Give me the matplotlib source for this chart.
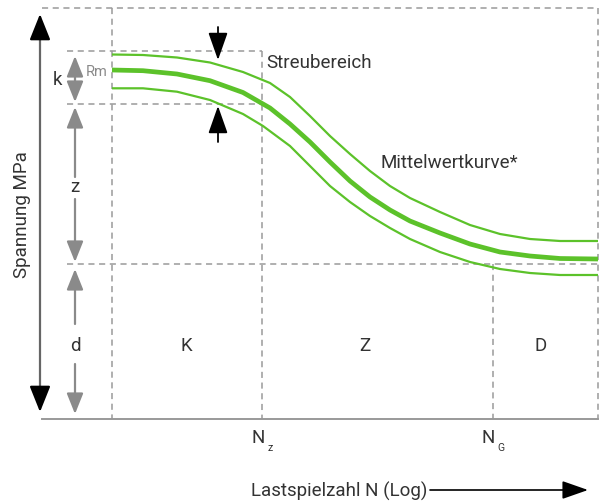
import matplotlib.pyplot as plt

plt.rcParams['font.family'] = ['Roboto', 'DejaVu Sans']

# --- curve data (pixel space of the original sketch, y grows downward) ---
mid_x = [112, 143, 177, 210, 243, 270, 290, 310, 330, 350, 370, 390, 410,
         440, 470, 500, 530, 560, 598]
mid_y = [71, 71.7, 75, 81.7, 93.5, 109, 125, 143, 163, 182, 198, 211, 222,
         234, 245, 253, 257, 259.5, 260]
upper_x = [112, 143, 177, 210, 243, 270, 290, 310, 330, 350, 370, 390, 410,
           440, 470, 500, 530, 560, 598]
upper_y = [55.5, 56, 58.5, 63.5, 73, 84, 98, 117, 137, 155, 172, 187, 199,
           213, 226, 235, 240, 242, 242]
lower_x = [112, 143, 177, 210, 243, 263, 290, 310, 330, 350, 370, 390, 410,
           440, 470, 500, 530, 560, 598]
lower_y = [89.3, 89.3, 92.7, 101, 115, 127, 147, 167, 187, 203, 217, 229, 240,
           253, 263, 270, 274, 276, 276]

# guide positions
x_left, x_start, x_nz, x_ng, x_right = 40, 112, 262, 493, 598
y_top, y_k_top, y_k_bot, y_d, y_base = 9, 52, 105, 265, 420

region_labels = ["K", "Z", "D"]
region_x = [186, 365, 541]

green = '#5cc22a'
dash_col = '#9a9a9a'
gray = '#8a8a8a'
txt = '#333333'

fig = plt.figure(figsize=(6.05, 5.02), dpi=100)
ax = fig.add_axes([0, 0, 1, 1])
ax.set_xlim(0, 605)
ax.set_ylim(502, 0)
ax.axis('off')

dash = dict(color=dash_col, lw=1.1, linestyle=(0, (4, 3)))
# frame of dashed guides
ax.plot([x_left + 2, x_right], [y_top, y_top], **dash)
ax.plot([x_start, x_start], [y_top, y_base], **dash)
ax.plot([x_right, x_right], [y_top, y_base], **dash)
ax.plot([67, x_nz], [y_k_top, y_k_top], **dash)
ax.plot([67, x_nz], [y_k_bot, y_k_bot], **dash)
ax.plot([x_nz, x_nz], [y_k_top, y_base], **dash)
ax.plot([67, x_right], [y_d, y_d], **dash)
ax.plot([x_ng, x_ng], [y_d, y_base], **dash)

# base line (x axis)
ax.plot([x_left + 2, x_right], [y_base, y_base], color='#999999', lw=1.4)

# curves
line_kw = dict(color=green, solid_capstyle='butt', solid_joinstyle='round')
ax.plot(upper_x, upper_y, lw=1.6, **line_kw)
ax.plot(lower_x, lower_y, lw=1.6, **line_kw)
ax.plot(mid_x, mid_y, lw=3.4, **line_kw)


def arrow(x0, y0, x1, y1, col, lw=1.3, hl=0.7, hw=0.3, ms=20):
    ax.annotate('', xy=(x1, y1), xytext=(x0, y0),
                arrowprops=dict(arrowstyle=f'-|>,head_length={hl},head_width={hw}',
                                color=col, lw=lw, shrinkA=0, shrinkB=0,
                                mutation_scale=ms))


# y axis: gray shaft, black heads
ax.plot([x_left, x_left], [25, 400], color='#666666', lw=1.6)
arrow(x_left, 40, x_left, 15, 'black', lw=1.6, hl=0.8, hw=0.32)
arrow(x_left, 390, x_left, 413, 'black', lw=1.6, hl=0.8, hw=0.32)

# gray dimension arrows
ax_x = 75
arrow(ax_x, 80, ax_x, 57, gray, lw=1.6, hl=0.7, hw=0.28, ms=18)
arrow(ax_x, 80, ax_x, 103, gray, lw=1.6, hl=0.7, hw=0.28, ms=18)
arrow(ax_x, 178, ax_x, 108, gray, lw=1.6, hl=0.7, hw=0.28, ms=18)
arrow(ax_x, 200, ax_x, 263, gray, lw=1.6, hl=0.7, hw=0.28, ms=18)
arrow(ax_x, 325, ax_x, 270, gray, lw=1.6, hl=0.7, hw=0.28, ms=18)
arrow(ax_x, 365, ax_x, 415, gray, lw=1.6, hl=0.7, hw=0.28, ms=18)

# black scatter band arrows
arrow(218, 28, 218, 61, 'black', lw=1.3, hl=0.85, hw=0.3)
arrow(218, 143, 218, 107, 'black', lw=1.3, hl=0.85, hw=0.3)

# bottom axis arrow
arrow(430, 491, 588, 491, 'black', lw=1.2, hl=0.8, hw=0.28)

fs = 13.5
ax.text(58, 80, 'k', fontsize=fs, color=txt, ha='center', va='center')
ax.text(108, 72, 'Rm', fontsize=10.5, color='#8a8a8a', ha='right', va='center')
ax.text(ax_x, 187, 'z', fontsize=fs, color=txt, ha='center', va='center')
ax.text(ax_x, 346, 'd', fontsize=fs, color=txt, ha='center', va='center')
for lab, xx in zip(region_labels, region_x):
    ax.text(xx, 346, lab, fontsize=fs, color=txt, ha='center', va='center')

ax.text(266, 63, 'Streubereich', fontsize=fs, color=txt, ha='left', va='center')
ax.text(380, 163, 'Mittelwertkurve*', fontsize=fs, color=txt, ha='left', va='center')

ax.text(258, 438, 'N', fontsize=fs, color=txt, ha='center', va='center')
ax.text(270, 448, 'z', fontsize=7.5, color=txt, ha='center', va='center')
ax.text(488, 438, 'N', fontsize=fs, color=txt, ha='center', va='center')
ax.text(501, 448, 'G', fontsize=7.5, color=txt, ha='center', va='center')

ax.text(427, 491, 'Lastspielzahl N (Log)', fontsize=fs, color=txt, ha='right', va='center')
ax.text(22, 215, 'Spannung MPa', fontsize=fs, color=txt, ha='center', va='center',
        rotation=90)

fig.savefig('out.png', dpi=100)
